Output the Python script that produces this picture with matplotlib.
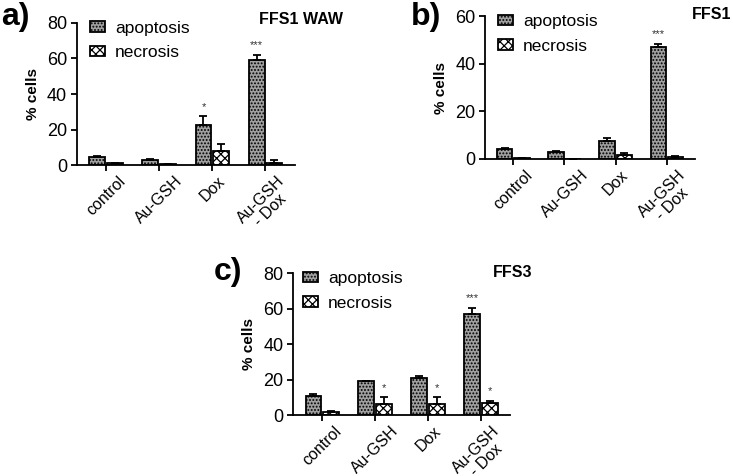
import matplotlib
matplotlib.use("Agg")
import matplotlib.pyplot as plt
import numpy as np

plt.rcParams['font.family'] = ['Liberation Sans', 'DejaVu Sans']
plt.rcParams['hatch.linewidth'] = 0.9

categories = ["control", "Au-GSH", "Dox", "Au-GSH\n- Dox"]

# panel a) FFS1 WAW
a_apo = [4.5, 3.0, 22.5, 59.0]
a_apo_err = [0.5, 0.5, 5.0, 3.0]
a_nec = [1.0, 0.5, 8.0, 1.5]
a_nec_err = [0.3, 0.2, 3.8, 1.5]
a_apo_stars = ["", "", "*", "***"]
a_nec_stars = ["", "", "", ""]

# panel b) FFS1
b_apo = [4.3, 3.0, 7.5, 47.0]
b_apo_err = [0.5, 0.5, 1.5, 1.2]
b_nec = [0.3, 0.1, 1.5, 1.0]
b_nec_err = [0.1, 0.1, 1.2, 0.3]
b_apo_stars = ["", "", "", "***"]
b_nec_stars = ["", "", "", ""]

# panel c) FFS3
c_apo = [11.0, 19.0, 21.0, 57.0]
c_apo_err = [0.7, 0.3, 0.8, 3.5]
c_nec = [2.0, 6.5, 6.5, 7.0]
c_nec_err = [0.5, 3.5, 3.5, 1.0]
c_apo_stars = ["", "", "", "***"]
c_nec_stars = ["", "*", "*", "*"]

fig = plt.figure(figsize=(7.33, 4.76), dpi=100)

def panel(rect, apo, apo_err, nec, nec_err, apo_st, nec_st, ymax, yticks, star_off, leg_x):
    ax = fig.add_axes(rect)
    x = np.arange(len(categories))
    w = 0.3
    gap = 0.035
    xa = x - w / 2 - gap / 2
    xn = x + w / 2 + gap / 2
    ax.bar(xa, apo, w, color='#a0a0a0', edgecolor='black', linewidth=1.3,
           hatch='.....', label='apoptosis', zorder=2)
    ax.bar(xn, nec, w, color='white', edgecolor='black', linewidth=1.3,
           hatch='xxxx', label='necrosis', zorder=2)
    ax.errorbar(xa, apo, yerr=[np.zeros(len(apo)), apo_err], fmt='none',
                ecolor='black', elinewidth=1.3, capsize=3, capthick=1.3, zorder=3)
    ax.errorbar(xn, nec, yerr=[np.zeros(len(nec)), nec_err], fmt='none',
                ecolor='black', elinewidth=1.3, capsize=3, capthick=1.3, zorder=3)
    for xi, v, e, s in zip(xa, apo, apo_err, apo_st):
        if s:
            ax.text(xi, v + e + star_off, s, ha='center', va='bottom', fontsize=8, color='#333333')
    for xi, v, e, s in zip(xn, nec, nec_err, nec_st):
        if s:
            ax.text(xi, v + e + star_off, s, ha='center', va='bottom', fontsize=8, color='#333333')
    ax.set_xlim(-0.55, 3.55)
    ax.set_ylim(0, ymax)
    ax.set_yticks(yticks)
    ax.set_xticks(x)
    ax.set_xticklabels(categories, rotation=45, ha='center', va='top',
                       multialignment='center', fontsize=11.5, linespacing=0.95)
    ax.tick_params(axis='y', labelsize=13, width=1.3, length=4, pad=3)
    ax.tick_params(axis='x', width=1.3, length=4, pad=2)
    for sp in ['top', 'right']:
        ax.spines[sp].set_visible(False)
    for sp in ['left', 'bottom']:
        ax.spines[sp].set_linewidth(1.3)
    ax.set_ylabel('% cells', fontsize=11, fontweight='bold', labelpad=5)
    ax.legend(loc='upper left', frameon=False, fontsize=12.5, handlelength=0.85,
              handleheight=0.55, handletextpad=0.6, borderaxespad=0.0, borderpad=0.0,
              bbox_to_anchor=(leg_x, 1.015), labelspacing=0.55)
    return ax

axa = panel([0.105, 0.653, 0.297, 0.299], a_apo, a_apo_err, a_nec, a_nec_err,
            a_apo_stars, a_nec_stars, 80, [0, 20, 40, 60, 80], 2.5, 0.06)
axb = panel([0.662, 0.666, 0.286, 0.300], b_apo, b_apo_err, b_nec, b_nec_err,
            b_apo_stars, b_nec_stars, 60, [0, 20, 40, 60], 2.0, 0.06)
axc = panel([0.400, 0.128, 0.296, 0.298], c_apo, c_apo_err, c_nec, c_nec_err,
            c_apo_stars, c_nec_stars, 80, [0, 20, 40, 60, 80], 2.5, 0.045)

fig.text(0.468, 0.975, 'FFS1 WAW', fontsize=11.5, fontweight='bold', ha='right', va='top')
fig.text(0.998, 0.985, 'FFS1', fontsize=11.5, fontweight='bold', ha='right', va='top')
fig.text(0.726, 0.443, 'FFS3', fontsize=11.5, fontweight='bold', ha='right', va='top')

fig.text(0.002, 0.995, 'a)', fontsize=23, fontweight='bold', va='top', ha='left')
fig.text(0.560, 0.995, 'b)', fontsize=23, fontweight='bold', va='top', ha='left')
fig.text(0.291, 0.46, 'c)', fontsize=23, fontweight='bold', va='top', ha='left')

fig.savefig('out.png', dpi=100)
